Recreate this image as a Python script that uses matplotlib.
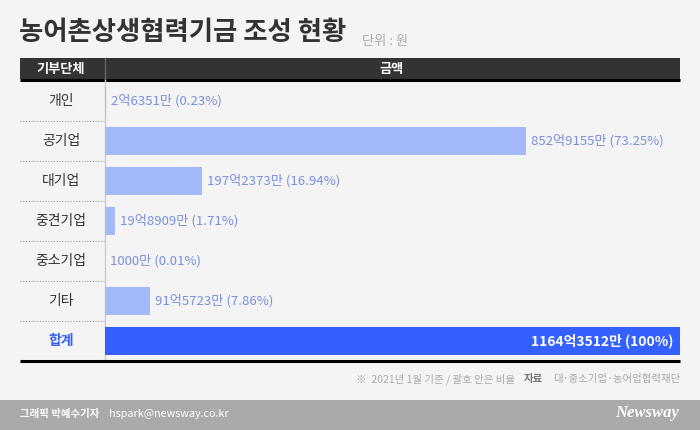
import matplotlib
matplotlib.use('Agg')
import matplotlib.pyplot as plt
from matplotlib.patches import Rectangle

plt.rcParams['font.family'] = ['Noto Sans CJK KR', 'DejaVu Sans']

# data (단위: 만원)
donors = ['개인', '공기업', '대기업', '중견기업', '중소기업', '기타', '합계']
amounts = [26351, 8529155, 1972373, 198909, 1000, 915723, 11643512]
shares = ['0.23%', '73.25%', '16.94%', '1.71%', '0.01%', '7.86%', '100%']

title = '농어촌상생협력기금 조성 현황'
unit = '단위 : 원'
note = '※  2021년 1월 기준 / 괄호 안은 비율'
source = '대·중소기업·농어업협력재단'

BG = '#f4f4f4'
LIGHT = '#a3b9fa'
DARK = '#3360ff'
LABEL = '#7890e0'


def fmt(v):
    if v >= 10000:
        return f'{v // 10000}억{v % 10000}만'
    return f'{v}만'


W, H = 700, 430
fig = plt.figure(figsize=(W / 100, H / 100), dpi=100, facecolor=BG)

# background axes in pixel coordinates
bg = fig.add_axes([0, 0, 1, 1])
bg.set_xlim(0, W)
bg.set_ylim(H, 0)
bg.axis('off')
bg.set_facecolor(BG)

bg.text(19, 33, title, fontsize=19, fontweight='heavy', color='#333333',
        ha='left', va='center')
bg.text(362, 42, unit, fontsize=9.5, color='#aaaaaa', ha='left', va='center')

# header
bg.add_patch(Rectangle((20, 58), 660, 21, color='#333333', lw=0))
bg.plot([20, 680], [80, 80], color='black', lw=2.2, solid_capstyle='butt')
bg.plot([104.5, 104.5], [58, 79], color='#666666', lw=1)
bg.text(61, 68.5, '기부단체', fontsize=9.5, fontweight='bold', color='white',
        ha='center', va='center')
bg.text(392, 68.5, '금액', fontsize=9.5, fontweight='bold', color='white',
        ha='center', va='center')

# rows
row_top, row_h = 81, 40
n = len(donors)
for i, name in enumerate(donors):
    yc = row_top + row_h * (i + 0.5)
    last = i == n - 1
    bg.text(61, yc, name, fontsize=10, color=DARK if last else '#333333',
            fontweight='bold' if last else 'normal', ha='center', va='center')
    if i > 0:
        bg.plot([20, 104], [row_top + row_h * i] * 2, color='#999999', lw=0.8,
                ls=(0, (1, 1.5)))
bg.plot([104.5, 104.5], [80, row_top + row_h * n], color='#cccccc', lw=1)
bottom = row_top + row_h * n
bg.plot([20, 680], [bottom, bottom], color='black', lw=2.2, solid_capstyle='butt')

# bars
ax = fig.add_axes([105 / W, 1 - bottom / H, 575 / W, (bottom - row_top) / H])
ax.patch.set_alpha(0)
total = amounts[-1]
ax.set_xlim(0, total)
ax.set_ylim(n - 0.5, -0.5)
ax.axis('off')
colors = [LIGHT] * (n - 1) + [DARK]
ax.barh(range(n), amounts, height=0.72, color=colors, lw=0)
for i, (v, s) in enumerate(zip(amounts, shares)):
    label = f'{fmt(v)} ({s})'
    if i == n - 1:
        ax.annotate(label, (v, i), xytext=(-5, 0), textcoords='offset points',
                    ha='right', va='center', fontsize=10, fontweight='bold',
                    color='white')
    else:
        ax.annotate(label, (v, i), xytext=(3.5, 0), textcoords='offset points',
                    ha='left', va='center', fontsize=9.5, color=LABEL)

# footnote
bg.text(515, 379, note, fontsize=7.5, color='#aaaaaa', ha='right', va='center')
bg.text(543, 379, '자료', fontsize=7.5, fontweight='bold', color='#777777',
        ha='right', va='center')
bg.text(680, 379, source, fontsize=7.5, color='#aaaaaa', ha='right', va='center')

# footer
bg.add_patch(Rectangle((0, 400), W, 30, color='#aaaaaa', lw=0))
bg.text(20, 414, '그래픽 박혜수기자', fontsize=7.5, fontweight='bold', color='white',
        ha='left', va='center')
bg.text(109, 414, 'hspark@newsway.co.kr', fontsize=7.8, color='white',
        ha='left', va='center')
bg.text(679, 413, 'Newsway', fontsize=12, fontweight='bold', fontstyle='italic',
        family='Liberation Serif', color='white', ha='right', va='center')

fig.savefig('out.png', dpi=100, facecolor=BG)
